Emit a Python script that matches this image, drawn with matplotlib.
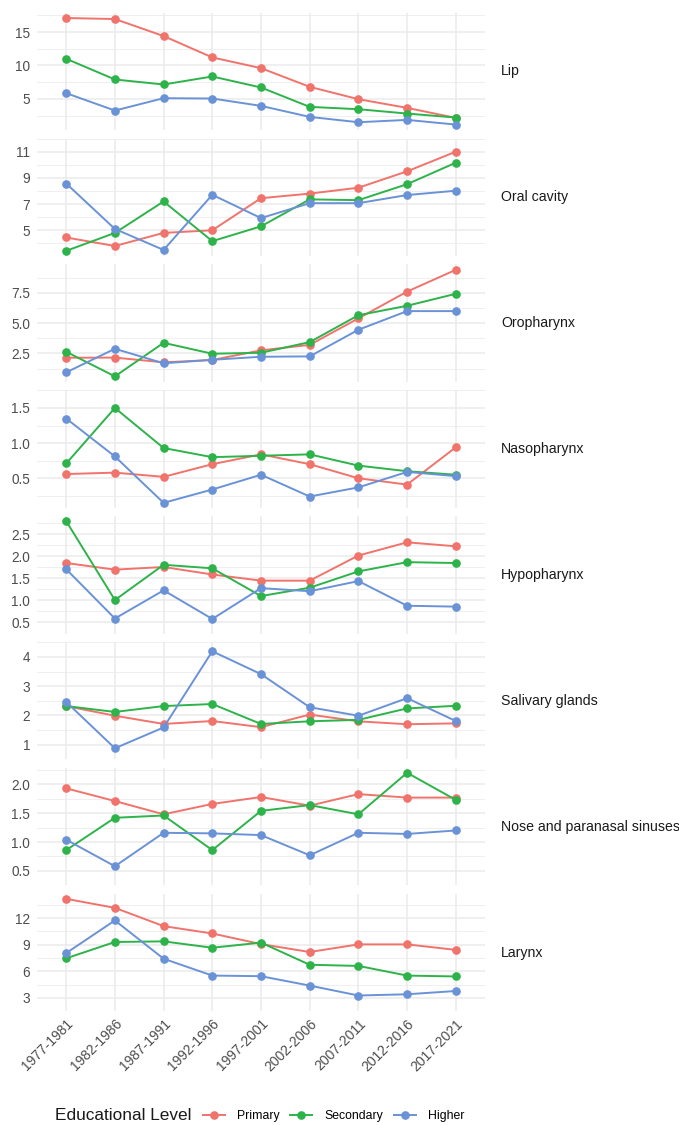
import numpy as np
import matplotlib
matplotlib.use("Agg")
import matplotlib.pyplot as plt
from matplotlib.lines import Line2D

plt.rcParams['font.family'] = ['Liberation Sans', 'DejaVu Sans']

# periodes et niveaux d'education
periodes = ['1977-1981', '1982-1986', '1987-1991', '1992-1996', '1997-2001',
            '2002-2006', '2007-2011', '2012-2016', '2017-2021']
niveaux = ['Primary', 'Secondary', 'Higher']
sites = ['Lip', 'Oral cavity', 'Oropharynx', 'Nasopharynx', 'Hypopharynx',
         'Salivary glands', 'Nose and paranasal sinuses', 'Larynx']

# taux par site (primary, secondary, higher)
lip_primary = [17.1, 16.95, 14.4, 11.2, 9.6, 6.8, 4.95, 3.65, 2.15]
lip_secondary = [11.0, 7.9, 7.15, 8.35, 6.7, 3.8, 3.45, 2.8, 2.2]
lip_higher = [5.85, 3.25, 5.1, 5.05, 3.95, 2.3, 1.5, 1.85, 1.15]

oral_primary = [4.45, 3.8, 4.8, 5.0, 7.45, 7.8, 8.25, 9.5, 11.0]
oral_secondary = [3.43, 4.8, 7.2, 4.17, 5.3, 7.36, 7.3, 8.52, 10.16]
oral_higher = [8.57, 5.1, 3.5, 7.71, 5.93, 7.07, 7.07, 7.69, 8.02]

oro_primary = [2.14, 2.15, 1.76, 1.95, 2.75, 3.2, 5.39, 7.6, 9.4]
oro_secondary = [2.63, 0.6, 3.37, 2.47, 2.55, 3.43, 5.65, 6.43, 7.42]
oro_higher = [0.93, 2.88, 1.68, 1.97, 2.22, 2.25, 4.45, 5.99, 5.99]

naso_primary = [0.56, 0.58, 0.52, 0.70, 0.84, 0.70, 0.50, 0.41, 0.94]
naso_secondary = [0.71, 1.50, 0.93, 0.80, 0.82, 0.84, 0.68, 0.60, 0.55]
naso_higher = [1.35, 0.81, 0.15, 0.34, 0.55, 0.24, 0.37, 0.59, 0.53]

hypo_primary = [1.85, 1.70, 1.76, 1.59, 1.45, 1.45, 2.02, 2.32, 2.23]
hypo_secondary = [2.80, 1.01, 1.81, 1.73, 1.10, 1.29, 1.66, 1.87, 1.85]
hypo_higher = [1.71, 0.59, 1.23, 0.58, 1.28, 1.21, 1.44, 0.88, 0.86]

sal_primary = [2.32, 1.99, 1.71, 1.81, 1.60, 2.03, 1.80, 1.70, 1.73]
sal_secondary = [2.32, 2.12, 2.32, 2.39, 1.71, 1.80, 1.85, 2.24, 2.33]
sal_higher = [2.46, 0.88, 1.59, 4.19, 3.41, 2.28, 1.99, 2.59, 1.81]

nose_primary = [1.93, 1.71, 1.48, 1.66, 1.78, 1.63, 1.83, 1.77, 1.77]
nose_secondary = [0.86, 1.42, 1.46, 0.86, 1.54, 1.64, 1.48, 2.20, 1.73]
nose_higher = [1.04, 0.58, 1.16, 1.15, 1.12, 0.77, 1.16, 1.14, 1.20]

larynx_primary = [14.18, 13.16, 11.1, 10.27, 9.07, 8.18, 9.04, 9.04, 8.42]
larynx_secondary = [7.47, 9.31, 9.38, 8.66, 9.24, 6.74, 6.61, 5.52, 5.42]
larynx_higher = [8.06, 11.74, 7.42, 5.52, 5.45, 4.39, 3.27, 3.41, 3.78]

donnees = [
    (lip_primary, lip_secondary, lip_higher),
    (oral_primary, oral_secondary, oral_higher),
    (oro_primary, oro_secondary, oro_higher),
    (naso_primary, naso_secondary, naso_higher),
    (hypo_primary, hypo_secondary, hypo_higher),
    (sal_primary, sal_secondary, sal_higher),
    (nose_primary, nose_secondary, nose_higher),
    (larynx_primary, larynx_secondary, larynx_higher),
]

# graduations de l'axe y pour chaque panneau
yticks = [
    [5, 10, 15],
    [5, 7, 9, 11],
    [2.5, 5.0, 7.5],
    [0.5, 1.0, 1.5],
    [0.5, 1.0, 1.5, 2.0, 2.5],
    [1, 2, 3, 4],
    [0.5, 1.0, 1.5, 2.0],
    [3, 6, 9, 12],
]
ylabels = [
    ['5', '10', '15'],
    ['5', '7', '9', '11'],
    ['2.5', '5.0', '7.5'],
    ['0.5', '1.0', '1.5'],
    ['0.5', '1.0', '1.5', '2.0', '2.5'],
    ['1', '2', '3', '4'],
    ['0.5', '1.0', '1.5', '2.0'],
    ['3', '6', '9', '12'],
]

couleurs = ['#F0736C', '#2DB34A', '#6A92D6']
grille = '#EBEBEB'

W, H = 679, 1125
fig = plt.figure(figsize=(W / 100, H / 100), dpi=100)

x = np.arange(len(periodes))
gauche, droite = 37, 485
haut0, hauteur, ecart = 12.7, 117.2, 8.7

for i, (site, series) in enumerate(zip(sites, donnees)):
    top = haut0 + i * (hauteur + ecart)
    ax = fig.add_axes([gauche / W, 1 - (top + hauteur) / H,
                       (droite - gauche) / W, hauteur / H])
    for vals, c in zip(series, couleurs):
        ax.plot(x, vals, color=c, lw=1.4, marker='o', ms=5.2, zorder=3)
    ax.set_xlim(-0.6, len(periodes) - 0.4)
    ax.margins(y=0.05)
    tk = yticks[i]
    pas = tk[1] - tk[0]
    mineurs = [t - pas / 2 for t in tk] + [tk[-1] + pas / 2]
    ax.set_yticks(tk)
    ax.set_yticklabels(ylabels[i])
    ax.set_yticks(mineurs, minor=True)
    ax.set_xticks(x)
    ax.grid(True, which='major', color=grille, lw=1.1, zorder=0)
    ax.grid(True, which='minor', axis='y', color=grille, lw=0.55, zorder=0)
    for s in ax.spines.values():
        s.set_visible(False)
    ax.tick_params(which='both', length=0)
    ax.tick_params(axis='y', labelsize=9.8, labelcolor='#4D4D4D', pad=5)
    if i == len(sites) - 1:
        ax.set_xticklabels(periodes, rotation=45, ha='right', va='top',
                           rotation_mode='anchor', fontsize=10, color='#4D4D4D')
        ax.tick_params(axis='x', pad=4)
    else:
        ax.set_xticklabels([])
    ax.text(501 / W, 1 - (top + hauteur / 2) / H, site, transform=fig.transFigure,
            ha='left', va='center', fontsize=10.2, color='#1A1A1A')

# legende en bas
fig.text(55 / W, 1 - 1116 / H, 'Educational Level', fontsize=12.4,
         ha='left', va='center', color='#1A1A1A')
poignees = [Line2D([0], [0], color=c, lw=1.4, marker='o', ms=5.2) for c in couleurs]
fig.legend(poignees, niveaux, loc='center left', bbox_to_anchor=(203 / W, 1 - 1116 / H),
           ncol=3, frameon=False, fontsize=8.8, handlelength=1.8, handletextpad=1.0,
           columnspacing=0.85, borderpad=0, borderaxespad=0)

fig.savefig('out.png', dpi=100, facecolor='white')
